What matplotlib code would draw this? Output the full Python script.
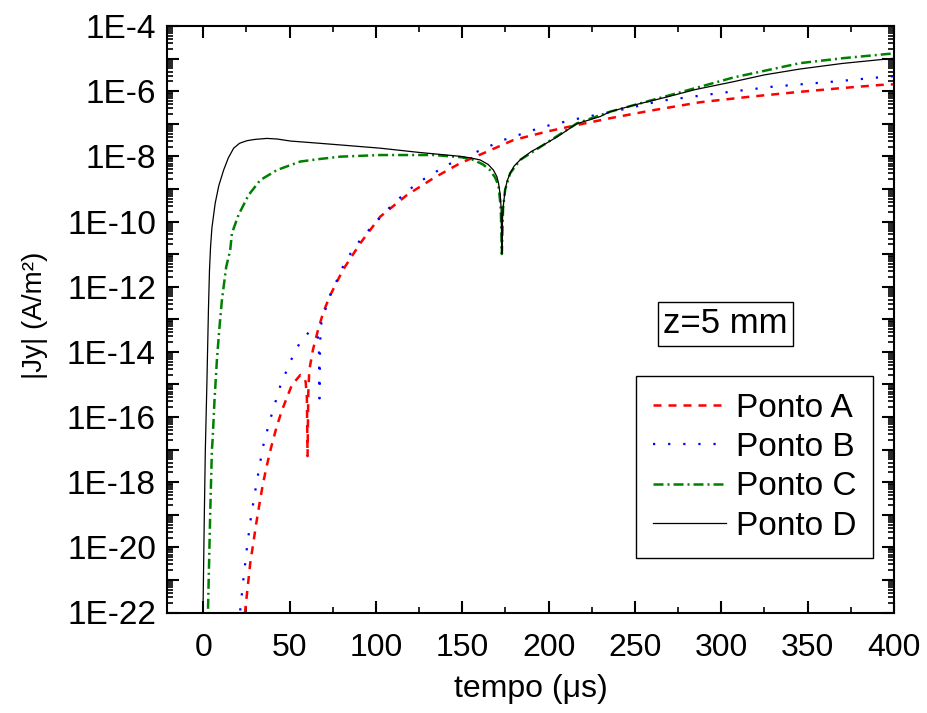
import numpy as np
import matplotlib
matplotlib.use('Agg')
import matplotlib.pyplot as plt
from matplotlib.ticker import LogLocator, FuncFormatter, MultipleLocator

plt.rcParams['font.family'] = ['Liberation Sans', 'DejaVu Sans']

# readings: time (us) and log10 |Jy| (A/m^2)
t_a = [23.5, 24.3, 27.2, 30.7, 32.6, 34.6, 36.9, 39.4, 42.5, 45.6, 51.3, 54.0, 56.2, 58.0, 59.3,
       60.0, 60.4, 60.8, 61.4, 63.5, 66.2, 69.3, 73.1, 77.4, 81.2, 90.9, 102.5, 117.9, 133.3,
       148.8, 164.2, 179.6, 199.0, 216.3, 235.6, 258.8, 287.7, 316.6, 345.6, 368.7, 391.9, 400.0]
log_a = [-22.5, -21.93, -20.49, -19.26, -18.65, -18.04, -17.47, -16.91, -16.3, -15.79, -15.02,
         -14.85, -14.71, -14.76, -14.92, -15.4, -17.2, -15.3, -14.56, -13.94, -13.38, -12.82,
         -12.31, -11.85, -11.46, -10.67, -9.85, -9.19, -8.67, -8.21, -7.86, -7.50, -7.24, -7.04,
         -6.83, -6.60, -6.34, -6.17, -6.02, -5.91, -5.81, -5.79]

t_b = [20.8, 21.4, 23.3, 25.3, 27.6, 30.5, 33.6, 35.3, 39.8, 44.6, 50.4, 56.2, 61.0, 64.0, 66.3,
       67.0, 67.3, 67.6, 68.0, 71.2, 73.9, 77.0, 80.3, 87.0, 96.7, 110.2, 123.7, 141.1, 154.6,
       173.8, 197.0, 218.2, 241.4, 264.5, 297.4, 330.1, 364.2, 394.8, 400.0]
log_b = [-22.4, -21.93, -20.95, -20.01, -19.08, -18.14, -17.2, -16.74, -15.89, -15.05, -14.30,
         -13.69, -13.41, -13.35, -13.5, -14.0, -15.43, -14.0, -13.2, -12.62, -12.2, -11.85,
         -11.44, -10.82, -10.21, -9.44, -8.83, -8.27, -7.95, -7.50, -7.09, -6.83, -6.58, -6.30,
         -6.07, -5.86, -5.71, -5.56, -5.54]

t_c = [2.5, 3.1, 4.0, 5.0, 5.4, 6.5, 7.9, 9.3, 10.8, 13.3, 15.6, 16.6, 20.4, 26.2, 33.0, 42.7,
       56.2, 67.7, 79.3, 102.5, 133.3, 150.0, 156.5, 162.0, 166.0, 169.0, 171.0, 172.3, 172.9,
       173.6, 174.8, 177.7, 183.5, 197.0, 216.3, 235.6, 268.4, 307.0, 345.6, 370.0, 400.0]
log_c = [-22.5, -21.1, -19.0, -17.01, -16.71, -15.5, -14.25, -13.3, -12.41, -11.39, -10.88,
         -10.36, -9.80, -9.19, -8.73, -8.42, -8.16, -8.08, -8.01, -7.96, -7.96, -8.03, -8.11,
         -8.25, -8.42, -8.65, -8.9, -9.6, -11.0, -9.6, -9.03, -8.52, -8.11, -7.65, -6.99, -6.63,
         -6.15, -5.58, -5.14, -4.99, -4.84]

t_d = [-0.3, 0.6, 1.2, 2.1, 3.0, 3.6, 4.2, 5.0, 6.9, 9.0, 11.8, 14.5, 17.6, 21.0, 25.3, 30.0,
       36.9, 43.0, 50.4, 65.0, 79.3, 102.5, 125.0, 148.8, 155.0, 160.3, 165.0, 168.0, 170.0,
       171.0, 172.0, 172.5, 172.9, 173.3, 173.8, 174.8, 176.0, 177.7, 180.0, 183.5, 190.0,
       197.0, 205.0, 216.3, 229.8, 235.6, 250.0, 268.4, 285.0, 307.0, 325.0, 345.6, 370.0, 400.0]
log_d = [-22.5, -19.06, -17.0, -14.97, -12.7, -11.5, -10.8, -10.2, -9.44, -8.9, -8.42, -8.05,
         -7.75, -7.6, -7.52, -7.48, -7.45, -7.47, -7.53, -7.59, -7.65, -7.75, -7.88, -8.0,
         -8.05, -8.11, -8.25, -8.42, -8.62, -8.83, -9.2, -9.6, -10.98, -9.9, -9.5, -9.03, -8.75,
         -8.52, -8.3, -8.11, -7.85, -7.65, -7.4, -7.0, -6.78, -6.63, -6.42, -6.18, -5.95,
         -5.71, -5.50, -5.32, -5.15, -4.99]

labels = ['Ponto A', 'Ponto B', 'Ponto C', 'Ponto D']

fig = plt.figure(figsize=(9.27, 7.13), dpi=100)
ax = fig.add_axes([167 / 927, 1 - 612.5 / 713, 727 / 927, 586.5 / 713])

ax.plot(t_a, 10.0 ** np.array(log_a), color='red', lw=1.8, dashes=(3.2, 2.8), label=labels[0])
ax.plot(t_b, 10.0 ** np.array(log_b), color='blue', lw=1.6, dashes=(1.0, 5.8), label=labels[1])
ax.plot(t_c, 10.0 ** np.array(log_c), color='green', lw=1.8, dashes=(4, 1.6, 0.8, 1.6), label=labels[2])
ax.plot(t_d, 10.0 ** np.array(log_d), color='black', lw=0.9, label=labels[3])

ax.set_yscale('log')
ax.set_xlim(-21, 400)
ax.set_ylim(1e-22, 1e-4)

ax.yaxis.set_major_locator(LogLocator(base=10, numticks=40))
ax.yaxis.set_minor_locator(LogLocator(base=10, subs=np.arange(2, 10), numticks=40))


def ylab(v, pos):
    e = int(round(np.log10(v)))
    return '1E%d' % e if e % 2 == 0 else ''


ax.yaxis.set_major_formatter(FuncFormatter(ylab))
ax.xaxis.set_major_locator(MultipleLocator(50))
ax.xaxis.set_minor_locator(MultipleLocator(25))

ax.tick_params(which='both', direction='in', top=True, right=True)
ax.tick_params(which='major', length=8.5, width=1.5)
ax.tick_params(which='minor', length=4.5, width=1.2)
ax.tick_params(axis='y', labelsize=24, pad=8)
ax.tick_params(axis='x', labelsize=23, pad=15)
for s in ax.spines.values():
    s.set_linewidth(1.5)

ax.set_xlabel('tempo (μs)', fontsize=23)
ax.xaxis.set_label_coords(0.5, -0.105)
ax.set_ylabel('|Jy| (A/m²)', fontsize=20)
ax.yaxis.set_label_coords(-0.164, 0.507)

ax.text(0.768, 0.492, 'z=5 mm', transform=ax.transAxes, fontsize=25, ha='center', va='center',
        bbox=dict(boxstyle='square,pad=0.15', fc='white', ec='black', lw=1))

leg = ax.legend(loc='upper left', bbox_to_anchor=(636 / 927, 1 - 376 / 713),
                bbox_transform=fig.transFigure, fontsize=24, frameon=True, fancybox=False,
                borderaxespad=0, borderpad=0.5, labelspacing=0.25, handlelength=2.2,
                handletextpad=0.3)
leg.get_frame().set_edgecolor('black')
leg.get_frame().set_linewidth(1)
leg.get_frame().set_alpha(1)

fig.savefig('out.png', dpi=100)
